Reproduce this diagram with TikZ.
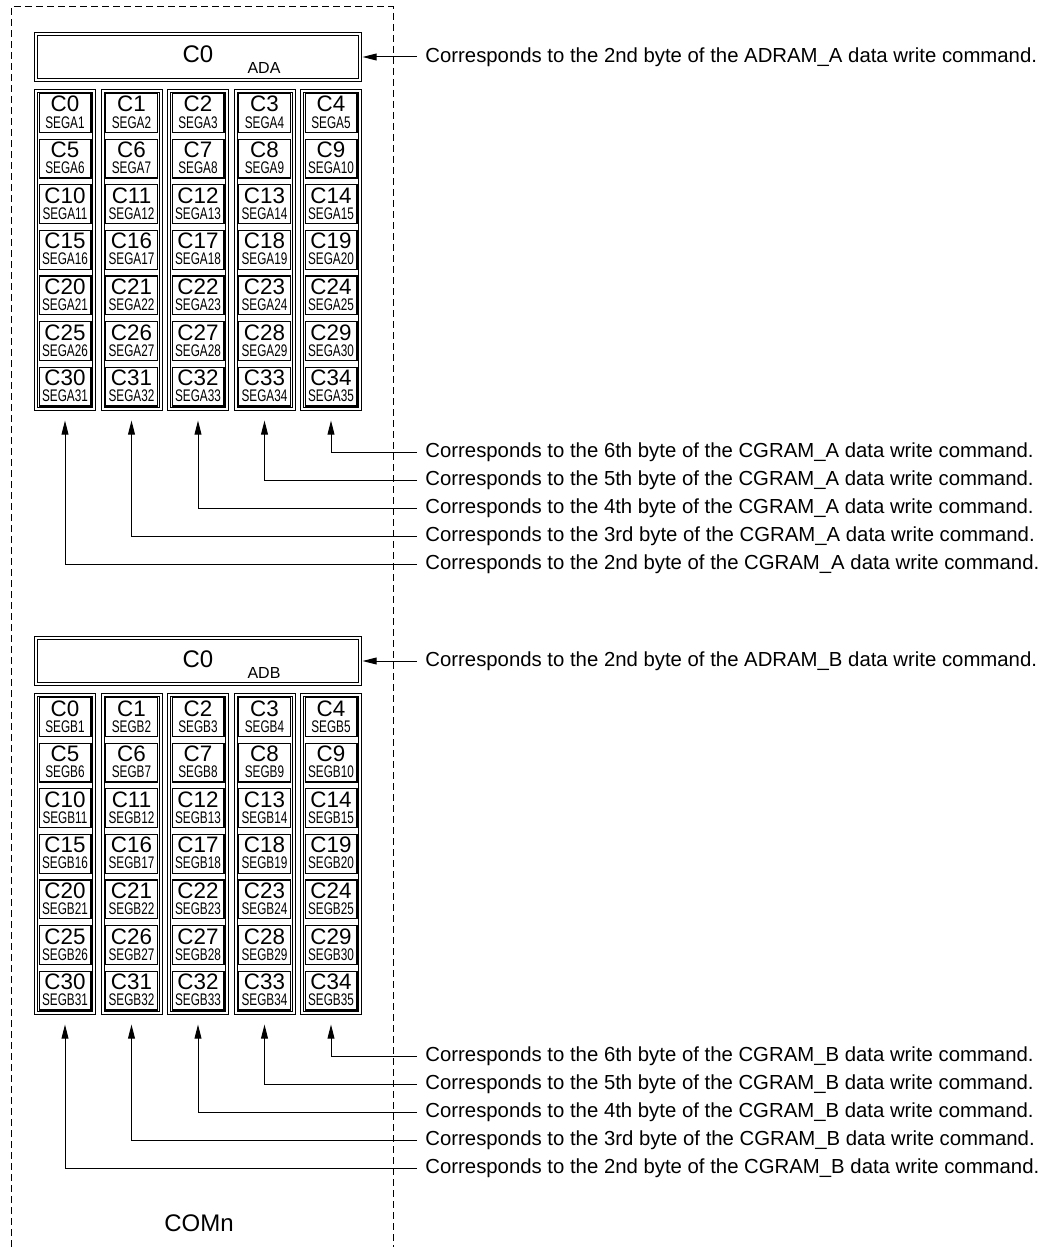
\documentclass[tikz,border=0pt]{standalone}
\usepackage{fontspec}
\setmainfont{Liberation Sans}
\newfontfamily\segfont[FakeStretch=0.7]{Liberation Sans}
\usetikzlibrary{arrows.meta}

\tikzset{
  dbl/.style={draw,line width=0.5pt,double=white,double distance=1pt,inner sep=0pt},
  cellbox/.style={draw,line width=0.6pt,minimum width=25.9pt,minimum height=19.4pt,inner sep=0pt},
  clabel/.style={anchor=base,inner sep=0pt,font=\fontsize{11.2}{11}\selectfont},
  slabel/.style={anchor=base,inner sep=0pt,font=\segfont\fontsize{8.4}{8}\selectfont},
  note/.style={anchor=west,inner sep=4pt,font=\fontsize{10.17}{12}\selectfont},
  feed/.style={-{Triangle[length=7pt,width=3.4pt]},line width=0.5pt}
}

\begin{document}
\begin{tikzpicture}[x=0.5pt,y=-0.5pt]
\useasboundingbox (0,0) rectangle (1045,1247);

% COMn frame
\draw[dash pattern=on 3.5pt off 2pt,line width=0.5pt] (11,1247) -- (11,7) -- (393,7) -- (393,1247);
\node[font=\fontsize{12}{12}\selectfont] (comn) at (199,1223) {COMn};

\foreach \blk/\off in {A/0,B/604}{
  % AD box
  \node[dbl,minimum width=162pt,minimum height=23pt] (ad\blk) at (198,57+\off) {};
  \node[anchor=base,inner sep=0pt,font=\fontsize{12}{12}\selectfont] (adc\blk) at (198,63+\off) {C0};
  \node[anchor=base,inner sep=0pt,font=\fontsize{8}{8}\selectfont] (adl\blk) at (264,74+\off) {AD\blk};
  \node[note] (adn\blk) at (417,57+\off) {Corresponds to the 2nd byte of the ADRAM\_\blk{} data write command.};
  \draw[feed,shorten >=1pt] (adn\blk.west) -- (ad\blk.east);
  % columns of cells
  \foreach \cc in {0,...,4}{
    \node[dbl,minimum width=29pt,minimum height=159pt] (col\blk\cc) at (65+66.5*\cc,250+\off) {};
    \foreach \rr in {0,...,6}{
      \pgfmathtruncatemacro\idx{5*\rr+\cc}
      \pgfmathtruncatemacro\seg{\idx+1}
      \node[cellbox] (cell\blk\idx) at (65+66.5*\cc,113+45.6*\rr+\off) {};
      \node[clabel] (cl\blk\idx) at (65+66.5*\cc,112+45.6*\rr+\off) {C\idx};
      \node[slabel] (sl\blk\idx) at (65+66.5*\cc,128+45.6*\rr+\off) {SEG\blk\seg};
    }
  }
  % byte notes
  \foreach \cc/\ord in {0/2nd,1/3rd,2/4th,3/5th,4/6th}{
    \node[note] (n\blk\cc) at (417,564-28*\cc+\off) {Corresponds to the \ord{} byte of the CGRAM\_\blk{} data write command.};
    \draw[feed,shorten >=5.5pt] (n\blk\cc.west) -| (col\blk\cc.south);
  }
}
\end{tikzpicture}
\end{document}
